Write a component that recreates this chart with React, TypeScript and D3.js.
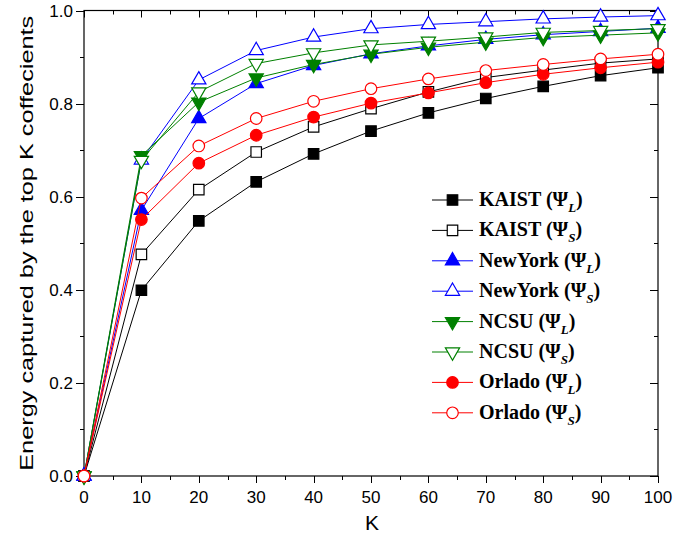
import React from "react";
import * as d3 from "d3";

const K = [0, 10, 20, 30, 40, 50, 60, 70, 80, 90, 100];
const kaistL = [0, 0.399, 0.548, 0.632, 0.692, 0.741, 0.78, 0.811, 0.837, 0.86, 0.877];
const kaistS = [0, 0.476, 0.615, 0.696, 0.75, 0.789, 0.825, 0.856, 0.872, 0.887, 0.896];
const newYorkL = [0, 0.571, 0.768, 0.843, 0.882, 0.907, 0.924, 0.938, 0.948, 0.955, 0.962];
const newYorkS = [0, 0.679, 0.851, 0.914, 0.943, 0.961, 0.97, 0.976, 0.982, 0.986, 0.989];
const ncsuL = [0, 0.688, 0.803, 0.855, 0.884, 0.906, 0.921, 0.932, 0.942, 0.947, 0.952];
const ncsuS = [0, 0.678, 0.825, 0.886, 0.909, 0.926, 0.934, 0.943, 0.953, 0.957, 0.961];
const orladoL = [0, 0.551, 0.672, 0.732, 0.771, 0.801, 0.823, 0.845, 0.863, 0.877, 0.889];
const orladoS = [0, 0.597, 0.709, 0.768, 0.805, 0.832, 0.853, 0.871, 0.884, 0.896, 0.906];

const xTicks = [0, 10, 20, 30, 40, 50, 60, 70, 80, 90, 100];
const yTicks = [0, 0.2, 0.4, 0.6, 0.8, 1.0];

type Series = { name: string; sub: string; values: number[]; color: string; shape: string; filled: boolean };

const series: Series[] = [
  { name: "KAIST", sub: "L", values: kaistL, color: "#000000", shape: "square", filled: true },
  { name: "KAIST", sub: "S", values: kaistS, color: "#000000", shape: "square", filled: false },
  { name: "NewYork", sub: "L", values: newYorkL, color: "#0000ff", shape: "up", filled: true },
  { name: "NewYork", sub: "S", values: newYorkS, color: "#0000ff", shape: "up", filled: false },
  { name: "NCSU", sub: "L", values: ncsuL, color: "#008000", shape: "down", filled: true },
  { name: "NCSU", sub: "S", values: ncsuS, color: "#008000", shape: "down", filled: false },
  { name: "Orlado", sub: "L", values: orladoL, color: "#ff0000", shape: "circle", filled: true },
  { name: "Orlado", sub: "S", values: orladoS, color: "#ff0000", shape: "circle", filled: false },
];

const x = d3.scaleLinear().domain([0, 100]).range([84, 658]);
const y = d3.scaleLinear().domain([0, 1]).range([476, 10.5]);

function markerPath(shape: string): string {
  if (shape === "square") return d3.symbol().type(d3.symbolSquare).size(110)()!;
  if (shape === "circle") return d3.symbol().type(d3.symbolCircle).size(105)()!;
  return d3.symbol().type(d3.symbolTriangle).size(88)()!;
}

function Marker({ s, cx, cy }: { s: Series; cx: number; cy: number }) {
  const rot = s.shape === "down" ? 180 : 0;
  return (
    <path
      d={markerPath(s.shape)}
      transform={`translate(${cx},${cy}) rotate(${rot})`}
      fill={s.filled ? s.color : "#ffffff"}
      stroke={s.color}
      strokeWidth={1.2}
    />
  );
}

export default function App() {
  const line = d3
    .line<number>()
    .x((_, i) => x(K[i]))
    .y((v) => y(v));

  const xMinor = d3.range(0, 101, 5);
  const yMinor = d3.range(0, 1.0001, 0.1);
  const [x0, x1] = x.range();
  const [y0, y1] = y.range();

  const legendX = 432;
  const legendY0 = 200;
  const legendDy = 30.4;

  return (
    <svg width={686} height={544} style={{ position: "absolute", left: 0, top: 0, background: "#fff" }}>
      <rect x={0} y={0} width={686} height={544} fill="#fff" />
      {/* ticks */}
      <g stroke="#000" strokeWidth={1}>
        {xMinor.map((t) => {
          const major = t % 10 === 0;
          const len = major ? 7 : 4;
          const xx = Math.round(x(t)) + 0.5;
          return (
            <g key={"xt" + t}>
              <line x1={xx} x2={xx} y1={y0} y2={y0 + len} />
              <line x1={xx} x2={xx} y1={y1} y2={y1 + len} />
            </g>
          );
        })}
        {yMinor.map((t, i) => {
          const major = i % 2 === 0;
          const len = major ? 8 : 4;
          const yy = Math.round(y(t)) + 0.5;
          return (
            <g key={"yt" + i}>
              <line x1={x0} x2={x0 - len} y1={yy} y2={yy} />
              <line x1={x1} x2={x1 - len} y1={yy} y2={yy} />
            </g>
          );
        })}
      </g>
      {/* frame */}
      <rect x={x0} y={y1} width={x1 - x0} height={y0 - y1} fill="none" stroke="#000" strokeWidth={1.2} />

      {/* tick labels */}
      <g fontFamily="'Liberation Sans', Arial, sans-serif" fontSize={17} fill="#000">
        {xTicks.map((t) => (
          <text key={"xl" + t} x={x(t)} y={503} textAnchor="middle">
            {t}
          </text>
        ))}
        {yTicks.map((t) => (
          <text key={"yl" + t} x={73} y={y(t) + 6} textAnchor="end">
            {t.toFixed(1)}
          </text>
        ))}
      </g>
      <text x={372} y={530} textAnchor="middle" fontFamily="'Liberation Sans', Arial, sans-serif" fontSize={21}>
        K
      </text>
      <text
        transform={`translate(33,${(y0 + y1) / 2}) rotate(-90)`}
        textAnchor="middle"
        fontFamily="'Liberation Sans', Arial, sans-serif"
        fontSize={18}
        textLength={455}
        lengthAdjust="spacingAndGlyphs"
      >
        Energy captured by the top K coffecients
      </text>

      {/* series */}
      {series.map((s, si) => (
        <g key={"s" + si}>
          <path d={line(s.values)!} fill="none" stroke={s.color} strokeWidth={1} />
          {s.values.map((v, i) => (
            <Marker key={i} s={s} cx={x(K[i])} cy={y(v)} />
          ))}
        </g>
      ))}

      {/* legend */}
      {series.map((s, si) => {
        const ly = legendY0 + si * legendDy;
        return (
          <g key={"lg" + si}>
            <line x1={legendX} x2={legendX + 41} y1={ly} y2={ly} stroke={s.color} strokeWidth={1} />
            <Marker s={s} cx={legendX + 20.5} cy={ly} />
            <text
              x={479}
              y={ly + 6}
              fontFamily="'Liberation Serif', 'Times New Roman', serif"
              fontWeight="bold"
              fontSize={20}
              fill="#000"
            >
              {s.name} (Ψ
              <tspan fontStyle="italic" fontSize={13} dy={6}>
                {s.sub}
              </tspan>
              <tspan dy={-6}>)</tspan>
            </text>
          </g>
        );
      })}
    </svg>
  );
}
